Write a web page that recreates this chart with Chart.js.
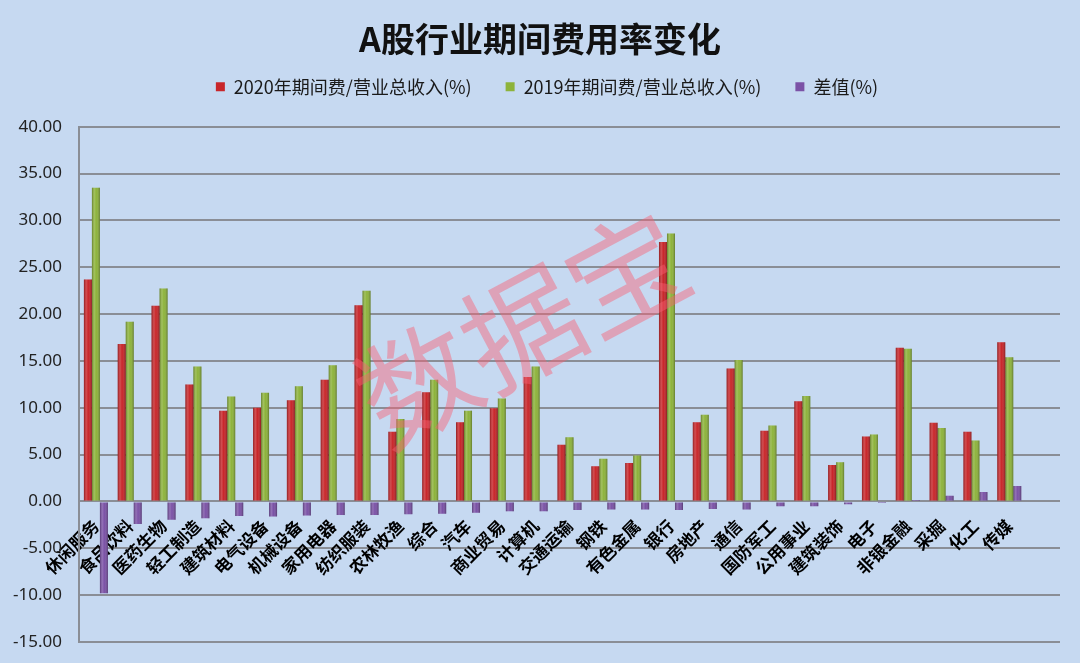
<!DOCTYPE html>
<html>
<head>
<meta charset="utf-8">
<script src="https://cdn.jsdelivr.net/npm/chart.js@4.4.1/dist/chart.umd.min.js"></script>
<style>
  html, body { margin: 0; padding: 0; background: #c6d9f1; }
  #wrap { width: 1080px; height: 663px; }
</style>
</head>
<body>
<div id="wrap"><canvas id="chart" width="1080" height="663"></canvas></div>
<script>
// industries (last slot is empty, as in the original sheet)
const industries = ['休闲服务', '食品饮料', '医药生物', '轻工制造', '建筑材料', '电气设备', '机械设备',
  '家用电器', '纺织服装', '农林牧渔', '综合', '汽车', '商业贸易', '计算机', '交通运输', '钢铁',
  '有色金属', '银行', '房地产', '通信', '国防军工', '公用事业', '建筑装饰', '电子', '非银金融',
  '采掘', '化工', '传媒', ''];

const cost2020 = [23.7, 16.8, 20.9, 12.5, 9.7, 10.0, 10.8, 13.0, 20.95, 7.45, 11.65, 8.45, 9.95, 13.3,
  6.05, 3.75, 4.1, 27.7, 8.45, 14.2, 7.55, 10.7, 3.9, 6.95, 16.4, 8.4, 7.45, 17.0, null];

const cost2019 = [33.5, 19.2, 22.75, 14.4, 11.2, 11.6, 12.3, 14.55, 22.5, 8.8, 13.0, 9.7, 11.0, 14.4,
  6.85, 4.55, 4.9, 28.6, 9.25, 15.1, 8.1, 11.25, 4.2, 7.15, 16.3, 7.85, 6.5, 15.4, null];

const diffs = [-9.8, -2.4, -1.95, -1.8, -1.55, -1.6, -1.5, -1.45, -1.45, -1.35, -1.3, -1.2, -1.05, -1.05,
  -0.9, -0.85, -0.85, -0.9, -0.8, -0.85, -0.5, -0.5, -0.3, -0.15, 0.05, 0.6, 1.0, 1.65, null];

const legendNames = ['2020年期间费/营业总收入(%)', '2019年期间费/营业总收入(%)', '差值(%)'];
const yTicks = { min: -15, max: 40, step: 5 };

const cjk = '"Noto Sans CJK SC", "Noto Sans", sans-serif';

// little bit of the old excel "cylinder" look on every bar
const barShade = {
  id: 'barShade',
  afterDatasetsDraw(chart) {
    const ctx = chart.ctx;
    chart.data.datasets.forEach((ds, i) => {
      const meta = chart.getDatasetMeta(i);
      meta.data.forEach(bar => {
        if (bar.skip || isNaN(bar.y)) return;
        const left = bar.x - bar.width / 2;
        const top = Math.min(bar.y, bar.base);
        const h = Math.abs(bar.base - bar.y);
        const g = ctx.createLinearGradient(left, 0, left + bar.width, 0);
        g.addColorStop(0, 'rgba(0,0,0,0.28)');
        g.addColorStop(0.3, 'rgba(255,255,255,0.18)');
        g.addColorStop(0.55, 'rgba(255,255,255,0.0)');
        g.addColorStop(1, 'rgba(0,0,0,0.32)');
        ctx.save();
        ctx.fillStyle = g;
        ctx.fillRect(left, top, bar.width, h);
        ctx.restore();
      });
    });
  }
};

const watermark = {
  id: 'watermark',
  afterDraw(chart) {
    const ctx = chart.ctx;
    ctx.save();
    ctx.translate(522, 328);
    ctx.rotate(-28 * Math.PI / 180);
    ctx.font = '118px ' + cjk;
    ctx.fillStyle = 'rgba(248,95,115,0.45)';
    ctx.textAlign = 'center';
    ctx.textBaseline = 'middle';
    ctx.fillText('数据宝', 0, 0);
    ctx.restore();
  }
};

// legend needs wide gaps between items but a fixed height
const legendHeight = {
  id: 'legendHeight',
  afterInit(chart) {
    const fit = chart.legend.fit;
    chart.legend.fit = function () {
      fit.call(this);
      this.height = 83;
    };
  },
  // title and legend are centred on the whole picture, not on the padded box
  afterLayout(chart) {
    chart.titleBlock.left += 10;
    chart.titleBlock.right += 10;
    chart.legend.left += 17;
    chart.legend.right += 17;
  }
};

const data = {
  labels: industries,
  datasets: [
    { label: legendNames[0], data: cost2020, backgroundColor: '#c8262a' },
    { label: legendNames[1], data: cost2019, backgroundColor: '#8db33b' },
    { label: legendNames[2], data: diffs, backgroundColor: '#7b52a6' }
  ]
};

const config = {
  type: 'bar',
  data,
  options: {
    responsive: false,
    animation: false,
    devicePixelRatio: 1,
    layout: { padding: { top: 0, left: 0, right: 20, bottom: 21 } },
    datasets: {
      bar: { categoryPercentage: 0.71, barPercentage: 1.0, borderWidth: 0 }
    },
    plugins: {
      title: {
        display: true,
        text: 'A股行业期间费用率变化',
        color: '#111',
        font: { size: 34, weight: 'bold', family: cjk },
        padding: { top: 19, bottom: -16 }
      },
      legend: {
        display: true,
        labels: {
          color: '#1a1a1a',
          font: { size: 18, family: cjk },
          boxWidth: 9,
          boxHeight: 9,
          padding: 34
        }
      },
      tooltip: { enabled: false }
    },
    scales: {
      x: {
        // labels hang a little below the zero line, as in the sheet
        position: { y: -1.1 },
        grid: { display: false, drawTicks: false },
        border: { display: false },
        ticks: {
          autoSkip: false,
          minRotation: 45,
          maxRotation: 45,
          padding: 4,
          color: '#000',
          font: { size: 17, weight: 'bold', family: cjk }
        }
      },
      y: {
        min: yTicks.min,
        max: yTicks.max,
        afterFit(scale) {
          scale.width = 79;
          scale.paddingTop = 0;
          scale.paddingBottom = 0;
        },
        grid: { color: '#8a8e96', lineWidth: 2, drawTicks: false },
        border: { display: true, color: '#8a8e96', width: 2 },
        ticks: {
          stepSize: yTicks.step,
          padding: 17,
          color: '#222',
          font: { size: 17, family: '"Noto Sans", sans-serif' },
          callback: v => v.toFixed(2)
        }
      }
    }
  },
  plugins: [legendHeight, barShade, watermark]
};

const myChart = new Chart(document.getElementById('chart'), config);
</script>
</body>
</html>
